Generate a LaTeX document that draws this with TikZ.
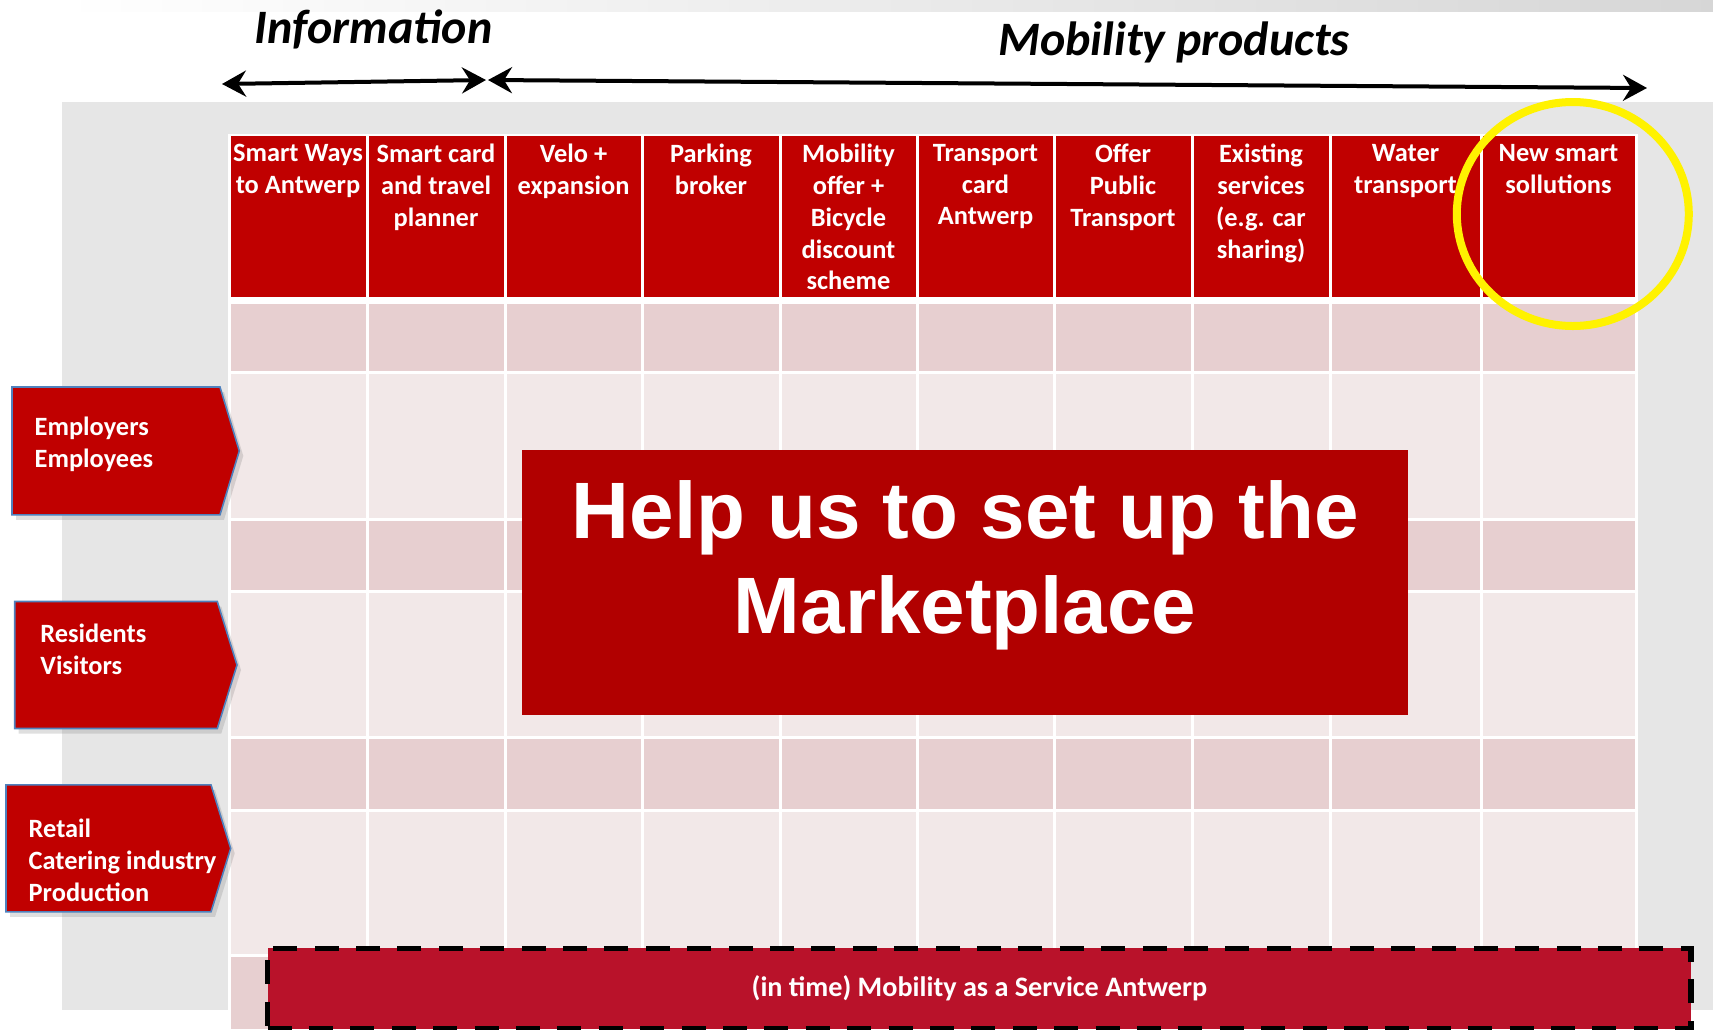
\documentclass[tikz,border=0pt]{standalone}
\usepackage{fontspec}
\setmainfont{Carlito}
\newfontfamily\arialfont{Liberation Sans}
\usetikzlibrary{shapes.geometric, shadows, arrows.meta}

\definecolor{headred}{HTML}{C00000}
\definecolor{rowdark}{HTML}{E7CFD0}
\definecolor{rowlight}{HTML}{F2E8E8}
\definecolor{panelgray}{HTML}{E6E6E6}
\definecolor{boxred}{HTML}{B10000}
\definecolor{maasred}{HTML}{B9122A}
\definecolor{tagblue}{HTML}{4F81BD}

\begin{document}
\begin{tikzpicture}[x=0.5pt, y=-0.5pt,
        head/.style={
            % The text:
            anchor=north,
            inner sep=0pt,
            align=center,
            text=white,
            % Font
            font=\bfseries\fontsize{13.2}{15.85}\selectfont
        },
        tag/.style={
            % The filling
            fill=headred,
            % The border
            draw=tagblue,
            line width=0.8pt,
            % The shadow
            drop shadow={opacity=0.25, shadow xshift=2pt, shadow yshift=-2.5pt}
        },
        tagtext/.style={
            anchor=west,
            inner sep=0pt,
            align=left,
            text=white,
            font=\bfseries\fontsize{13.2}{16.1}\selectfont
        },
        title/.style={
            anchor=base,
            inner sep=0pt,
            font=\bfseries\itshape\fontsize{24}{28}\selectfont
        },
        span/.style={
            line width=2pt,
            {Stealth[length=12pt, width=13pt, inset=4pt]}-{Stealth[length=12pt, width=13pt, inset=4pt]}
        },
        bigbox/.style={
            rectangle,
            fill=boxred,
            minimum width=443pt,
            minimum height=132.2pt,
            inner sep=0pt
        },
        bigtext/.style={
            inner sep=0pt,
            align=center,
            text=white,
            font=\arialfont\bfseries\fontsize{40}{47.5}\selectfont
        },
        maas/.style={
            rectangle,
            fill=maasred,
            draw=black,
            line width=2.8pt,
            dash pattern=on 12pt off 8.7pt,
            minimum width=711.8pt,
            minimum height=40.2pt,
            inner sep=0pt,
            text=white,
            font=\bfseries\fontsize{14.1}{16.5}\selectfont
        },
        ring/.style={
            ellipse,
            draw=yellow,
            line width=4pt,
            minimum width=116pt,
            minimum height=112pt,
            inner sep=0pt
        }]

    \useasboundingbox (0,0) rectangle (1713,1029);

    % background
    \shade[left color=white, right color=black!16] (60,0) rectangle (1713,11);
    \fill[panelgray] (62,102) rectangle (1713,1010);
    \fill[white] (227.5,133.5) rectangle (1637.5,1029);

    % columns of the table
    \foreach \xa/\xb/\i/\htext in {229/367/1/{Smart Ways\\to Antwerp}, 367/505/2/{Smart card\\and travel\\planner},
        505/642/3/{Velo +\\expansion}, 642/780/4/{Parking\\broker},
        780/917/5/{Mobility\\offer +\\Bicycle\\discount\\scheme}, 917/1054/6/{Transport\\card\\Antwerp},
        1054/1192/7/{Offer\\Public\\Transport}, 1192/1330/8/{Existing\\services\\(e.g. car\\sharing)},
        1330/1481/9/{Water\\transport}, 1481/1636/10/{New smart\\sollutions}}
    {
        \fill[headred] (\xa+1.5,135.5) rectangle (\xb-1.5,297);
        \node [head] (head\i) at ({(\xa+\xb)/2},144) {\htext};
        \foreach \ya/\yb/\rowcol in {303.7/371/rowdark, 374.2/518/rowlight, 521/590/rowdark,
            592.7/736.3/rowlight, 739.3/808.5/rowdark, 811.5/954/rowlight, 957/1029/rowdark}
            \fill[\rowcol] (\xa+1.5,\ya) rectangle (\xb-1.5,\yb);
    }

    % target groups
    \foreach \xl/\xr/\xt/\yt/\yb/\i/\tx/\ty/\ttext in {12/220/239.3/387/514.8/1/34.3/444/{Employers\\Employees},
        14.7/217.3/237/601.5/728.5/2/40/649.4/{Residents\\Visitors},
        6/211/230.7/784.8/911.9/3/28.3/860.6/{Retail\\Catering industry\\Production}}
    {
        \path[tag] (\xl,\yt) -- (\xr,\yt) -- (\xt,{(\yt+\yb)/2}) -- (\xr,\yb) -- (\xl,\yb) -- cycle;
        \node [tagtext] (group\i) at (\tx,\ty) {\ttext};
    }

    \node [bigbox] (help) at (965.2,582.3) {};
    \node [bigtext] (helptext) at (965.2,565.5) {Help us to set up the\\Marketplace};

    \node [maas] (maas) at (979.4,988.5) {(in time) Mobility as a Service Antwerp};

    \node [ring] (ring) at (1572.8,214) {};

    % spans on top
    \coordinate (infoL) at (222,84);
    \coordinate (infoR) at (486,80);
    \coordinate (mobL) at (488,80);
    \coordinate (mobR) at (1647,88);
    \draw[span] (infoL) -- (infoR);
    \draw[span] (mobL) -- (mobR);

    \node [title] (info) at (373.5,43.5) {Information};
    \node [title] (mob) at (1174,55.5) {Mobility products};

\end{tikzpicture}
\end{document}
